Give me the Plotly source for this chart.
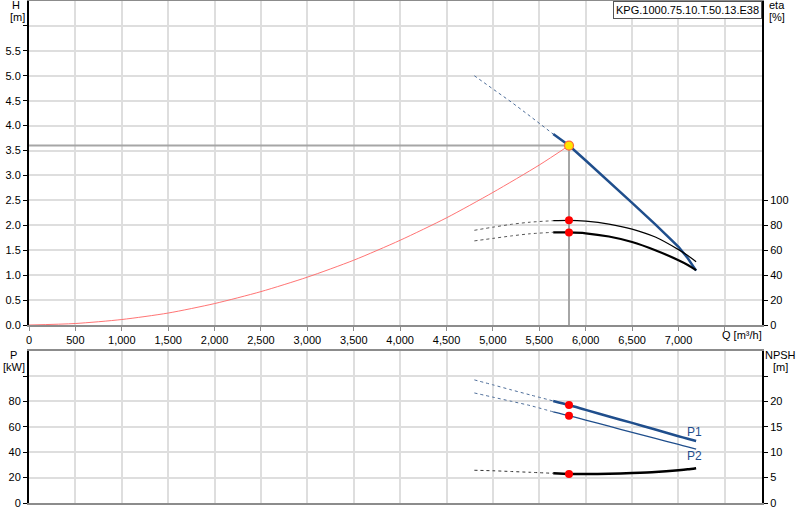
import plotly.graph_objects as go

# ── Data ──────────────────────────────────────────────────────────────────────
Q_DUTY = 5820
H_DUTY = 3.6

# system curve (red)
q_sys = [0, 500, 1000, 1500, 2000, 2500, 3000, 3500, 4000, 4500, 5000, 5500, 5820]
h_sys = [0, 0.03, 0.11, 0.24, 0.43, 0.67, 0.96, 1.30, 1.70, 2.15, 2.66, 3.21, 3.60]

# pump curves: dashed (outside range) and solid parts share these Q values
q_dash = [4800, 5000, 5200, 5400, 5650]
q_solid = [5650, 5820, 6000, 6250, 6500, 6750, 7000, 7100, 7190]

h_dash = [5.00, 4.74, 4.47, 4.19, 3.83]
h_solid = [3.83, 3.60, 3.30, 2.88, 2.45, 2.02, 1.57, 1.34, 1.09]

eta_dash = [76.0, 78.5, 80.8, 82.5, 83.7]
eta_solid = [83.7, 84.0, 83.3, 81.0, 77.0, 70.6, 60.5, 55.7, 50.7]
eta_tot_dash = [67.5, 69.5, 71.5, 73.2, 74.4]
eta_tot_solid = [74.4, 74.3, 73.6, 71.0, 66.6, 60.0, 52.0, 48.2, 44.0]

p1_dash = [97.0, 93.1, 89.1, 85.2, 80.4]
p1_solid = [80.4, 77.2, 73.4, 68.2, 63.1, 57.9, 52.6, 50.6, 48.8]
p2_dash = [86.7, 83.4, 80.1, 76.8, 71.8]
p2_solid = [71.8, 68.8, 65.3, 60.5, 55.7, 50.9, 46.1, 44.2, 42.5]

npsh_dash = [6.45, 6.35, 6.20, 6.05, 5.85]
npsh_solid = [5.85, 5.72, 5.70, 5.75, 5.90, 6.10, 6.45, 6.63, 6.85]

duty_eta = [84.0, 74.3]
duty_p = [77.2, 68.8]
duty_npsh = 5.72

x_ticks = list(range(0, 8000, 500))
x_labels = [f"{v:,}" for v in x_ticks[:-1]] + [""]
h_ticks = [i * 0.5 for i in range(13)]
h_labels = [f"{v:.1f}" for v in h_ticks[:-1]] + [""]
eta_ticks = [0, 20, 40, 60, 80, 100]
p_ticks = [0, 20, 40, 60, 80, 100]
p_labels = ["0", "20", "40", "60", "80", ""]
npsh_ticks = [0, 5, 10, 15, 20, 25]
npsh_labels = ["0", "5", "10", "15", "20", ""]

# ── Config ────────────────────────────────────────────────────────────────────
BLUE = "#1f4e8c"
GRID = "#dedede"
FONT = dict(family="Liberation Sans, Arial", size=11, color="#000")
L, R, T, B = 29, 38, 1, 17
W, HGT = 800, 520
PW, PH = W - L - R, HGT - T - B


def px(x):  # pixel -> paper x
    return (x - L) / PW


def py(y):  # pixel -> paper y
    return (HGT - B - y) / PH


fig = go.Figure()


def line(x, y, xa, ya, color, width, dash="solid", smooth=True):
    fig.add_trace(go.Scatter(x=x, y=y, xaxis=xa, yaxis=ya, mode="lines",
                             line=dict(color=color, width=width, dash=dash,
                                       shape="spline" if smooth else "linear",
                                       smoothing=0.7),
                             hoverinfo="skip", showlegend=False))


def dots(x, y, xa, ya):
    fig.add_trace(go.Scatter(x=x, y=y, xaxis=xa, yaxis=ya, mode="markers",
                             marker=dict(color="#ff0000", size=8),
                             hoverinfo="skip", showlegend=False))


# ── Top panel: H and eta ──────────────────────────────────────────────────────
line([0, Q_DUTY], [H_DUTY, H_DUTY], "x", "y", "#a6a6a6", 2, smooth=False)
line([Q_DUTY, Q_DUTY], [0, H_DUTY], "x", "y", "#a6a6a6", 2, smooth=False)
line(q_sys, h_sys, "x", "y", "#ff6464", 0.9)

line(q_dash, eta_dash, "x", "y2", "#555", 1, "dot")
line(q_solid, eta_solid, "x", "y2", "#000", 1.2)
line(q_dash, eta_tot_dash, "x", "y2", "#555", 1, "dot")
line(q_solid, eta_tot_solid, "x", "y2", "#000", 2.2)
dots([Q_DUTY, Q_DUTY], duty_eta, "x", "y2")

line(q_dash, h_dash, "x", "y", "#4d6d99", 1, "dot", smooth=False)
line(q_solid, h_solid, "x", "y", BLUE, 2.5, smooth=False)
fig.add_trace(go.Scatter(x=[Q_DUTY], y=[H_DUTY], xaxis="x", yaxis="y", mode="markers",
                         marker=dict(color="#ffe600", size=9,
                                     line=dict(color="#ff6a3a", width=1.2)),
                         hoverinfo="skip", showlegend=False))

# ── Bottom panel: P and NPSH ──────────────────────────────────────────────────
line(q_dash, p1_dash, "x2", "y3", "#4d6d99", 1, "dot")
line(q_solid, p1_solid, "x2", "y3", BLUE, 2.5)
line(q_dash, p2_dash, "x2", "y3", "#4d6d99", 1, "dot")
line(q_solid, p2_solid, "x2", "y3", BLUE, 1.3)
dots([Q_DUTY, Q_DUTY], duty_p, "x2", "y3")

line(q_dash, npsh_dash, "x2", "y4", "#333", 1, "dot")
line(q_solid, npsh_solid, "x2", "y4", "#000", 2.5)
dots([Q_DUTY], [duty_npsh], "x2", "y4")

# ── Layout ────────────────────────────────────────────────────────────────────
top_dom = [py(325), 1.0]
bot_dom = [0.0, py(350.7)]

xcommon = dict(range=[0, 7900], tickvals=x_ticks, showgrid=True, gridcolor=GRID,
               gridwidth=1.5, zeroline=False, showline=True, linecolor="#8c8c8c",
               linewidth=2, mirror=True, tickfont=FONT, automargin=False)
ycommon = dict(showgrid=True, gridcolor=GRID, gridwidth=2, zeroline=False,
               showline=True, linecolor="#000", linewidth=2, ticks="outside",
               ticklen=4, tickcolor="#000", tickfont=FONT, automargin=False)
yright = dict(showgrid=False, zeroline=False, showline=True, linecolor="#000",
              linewidth=2, ticks="outside", ticklen=4, tickcolor="#000", tickfont=FONT,
              automargin=False)

fig.update_layout(
    xaxis=dict(xcommon, anchor="y", ticktext=x_labels, ticks="outside", ticklen=4,
               tickcolor="#8c8c8c"),
    xaxis2=dict(xcommon, anchor="y3", showticklabels=False),
    yaxis=dict(ycommon, domain=top_dom, range=[0, 6.5], tickvals=h_ticks, ticktext=h_labels),
    yaxis2=dict(yright, overlaying="y", side="right", anchor="x", range=[0, 260],
                tickvals=eta_ticks),
    yaxis3=dict(ycommon, domain=bot_dom, anchor="x2", range=[0, 120], tickvals=p_ticks,
                ticktext=p_labels),
    yaxis4=dict(yright, overlaying="y3", side="right", anchor="x2", range=[0, 30],
                tickvals=npsh_ticks, ticktext=npsh_labels),
    plot_bgcolor="white",
    paper_bgcolor="white",
    font=FONT,
    margin=dict(l=L, r=R, t=T, b=B, autoexpand=False),
    width=W,
    height=HGT,
    showlegend=False,
)

labels = [
    ("H", 16, 5, "center"), ("[m]", 17, 17, "center"),
    ("eta", 767, 5, "left"), ("[%]", 767, 17, "left"),
    ("P", 14, 355, "center"), ("[kW]", 14, 367, "center"),
    ("NPSH", 780, 355, "center"), ("[m]", 780, 367, "center"),
    ("Q [m³/h]", 742, 335, "center"),
]
for txt, x, y, anchor in labels:
    fig.add_annotation(text=txt, x=px(x), y=py(y), xref="paper", yref="paper",
                       xanchor=anchor, yanchor="middle", showarrow=False, font=FONT)

fig.add_annotation(text="P1", x=7177, y=56, xref="x2", yref="y3", showarrow=False,
                   font=dict(FONT, color=BLUE, size=12))
fig.add_annotation(text="P2", x=7177, y=37.4, xref="x2", yref="y3", showarrow=False,
                   font=dict(FONT, color=BLUE, size=12))

fig.add_annotation(text="KPG.1000.75.10.T.50.13.E38", x=1.0, y=1.0, xref="paper",
                   yref="paper", xanchor="right", yanchor="top", showarrow=False,
                   font=FONT, bgcolor="white", bordercolor="#555", borderwidth=1,
                   borderpad=2)

# page body has a default 8px margin; drop it so the figure sits at the corner
fig.write_html("out.html", config={"displayModeBar": False},
               post_script="document.body.style.margin='0px';")
